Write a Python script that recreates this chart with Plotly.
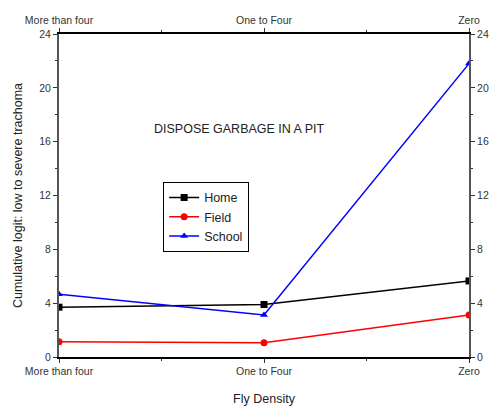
import plotly.graph_objects as go

# Fly density categories and cumulative logit values per location
categories = ["More than four", "One to Four", "Zero"]
home = [3.7, 3.9, 5.65]
field = [1.14, 1.06, 3.12]
school = [4.66, 3.12, 21.8]
y_ticks = [0, 4, 8, 12, 16, 20, 24]

xpos = list(range(len(categories)))
font = "Liberation Sans, Arial, sans-serif"

fig = go.Figure()
series = [
    ("Home", home, "black", "square"),
    ("Field", field, "red", "circle"),
    ("School", school, "blue", "triangle-up"),
]
for name, vals, color, sym in series:
    fig.add_trace(go.Scatter(
        x=xpos, y=vals, name=name, mode="lines+markers",
        line=dict(color=color, width=1.5),
        marker=dict(symbol=sym, size=7, color=color),
    ))

# invisible trace to attach the mirrored top/right axes
fig.add_trace(go.Scatter(x=[0, 2], y=[0, 24], xaxis="x2", yaxis="y2",
                         mode="markers", marker=dict(opacity=0),
                         showlegend=False, hoverinfo="skip"))

axis_common = dict(showgrid=False, zeroline=False, ticks="outside",
                   ticklen=4, tickcolor="#333", showline=True, automargin=False,
                   tickfont=dict(family=font, size=10.5, color="#333"))
xa = dict(axis_common, range=[0, 2], tickvals=xpos, ticktext=categories,
          linecolor="black", linewidth=1.5,
          minor=dict(tickvals=[0.5, 1.5], ticks="outside", ticklen=2, tickcolor="#333"))
ya = dict(axis_common, range=[0, 24], tickvals=y_ticks,
          linecolor="#555", linewidth=2,
          minor=dict(dtick=2, ticks="outside", ticklen=2, tickcolor="#333"))

fig.update_layout(
    width=496, height=415,
    margin=dict(l=59, r=27, t=34, b=58),
    paper_bgcolor="white", plot_bgcolor="white",
    font=dict(family=font, size=11, color="#222"),
    xaxis=dict(xa, title=dict(text="Fly Density", font=dict(family=font, size=12.5), standoff=18)),
    yaxis=dict(ya, title=dict(text="Cumulative logit: low to severe trachoma",
                              font=dict(family=font, size=12.5), standoff=14)),
    xaxis2=dict(xa, overlaying="x", side="top", anchor="y"),
    yaxis2=dict(ya, overlaying="y", side="right", anchor="x"),
    legend=dict(x=0.254, y=0.542, xanchor="left", yanchor="top",
                bordercolor="black", borderwidth=1, bgcolor="white",
                font=dict(family=font, size=12.5, color="#222"),
                tracegroupgap=0, itemwidth=30),
    annotations=[dict(text="DISPOSE GARBAGE IN A PIT", x=0.441, y=0.735,
                      xref="paper", yref="paper", showarrow=False,
                      font=dict(family=font, size=12.5, color="#222"))],
)

fig.write_html("out.html")
